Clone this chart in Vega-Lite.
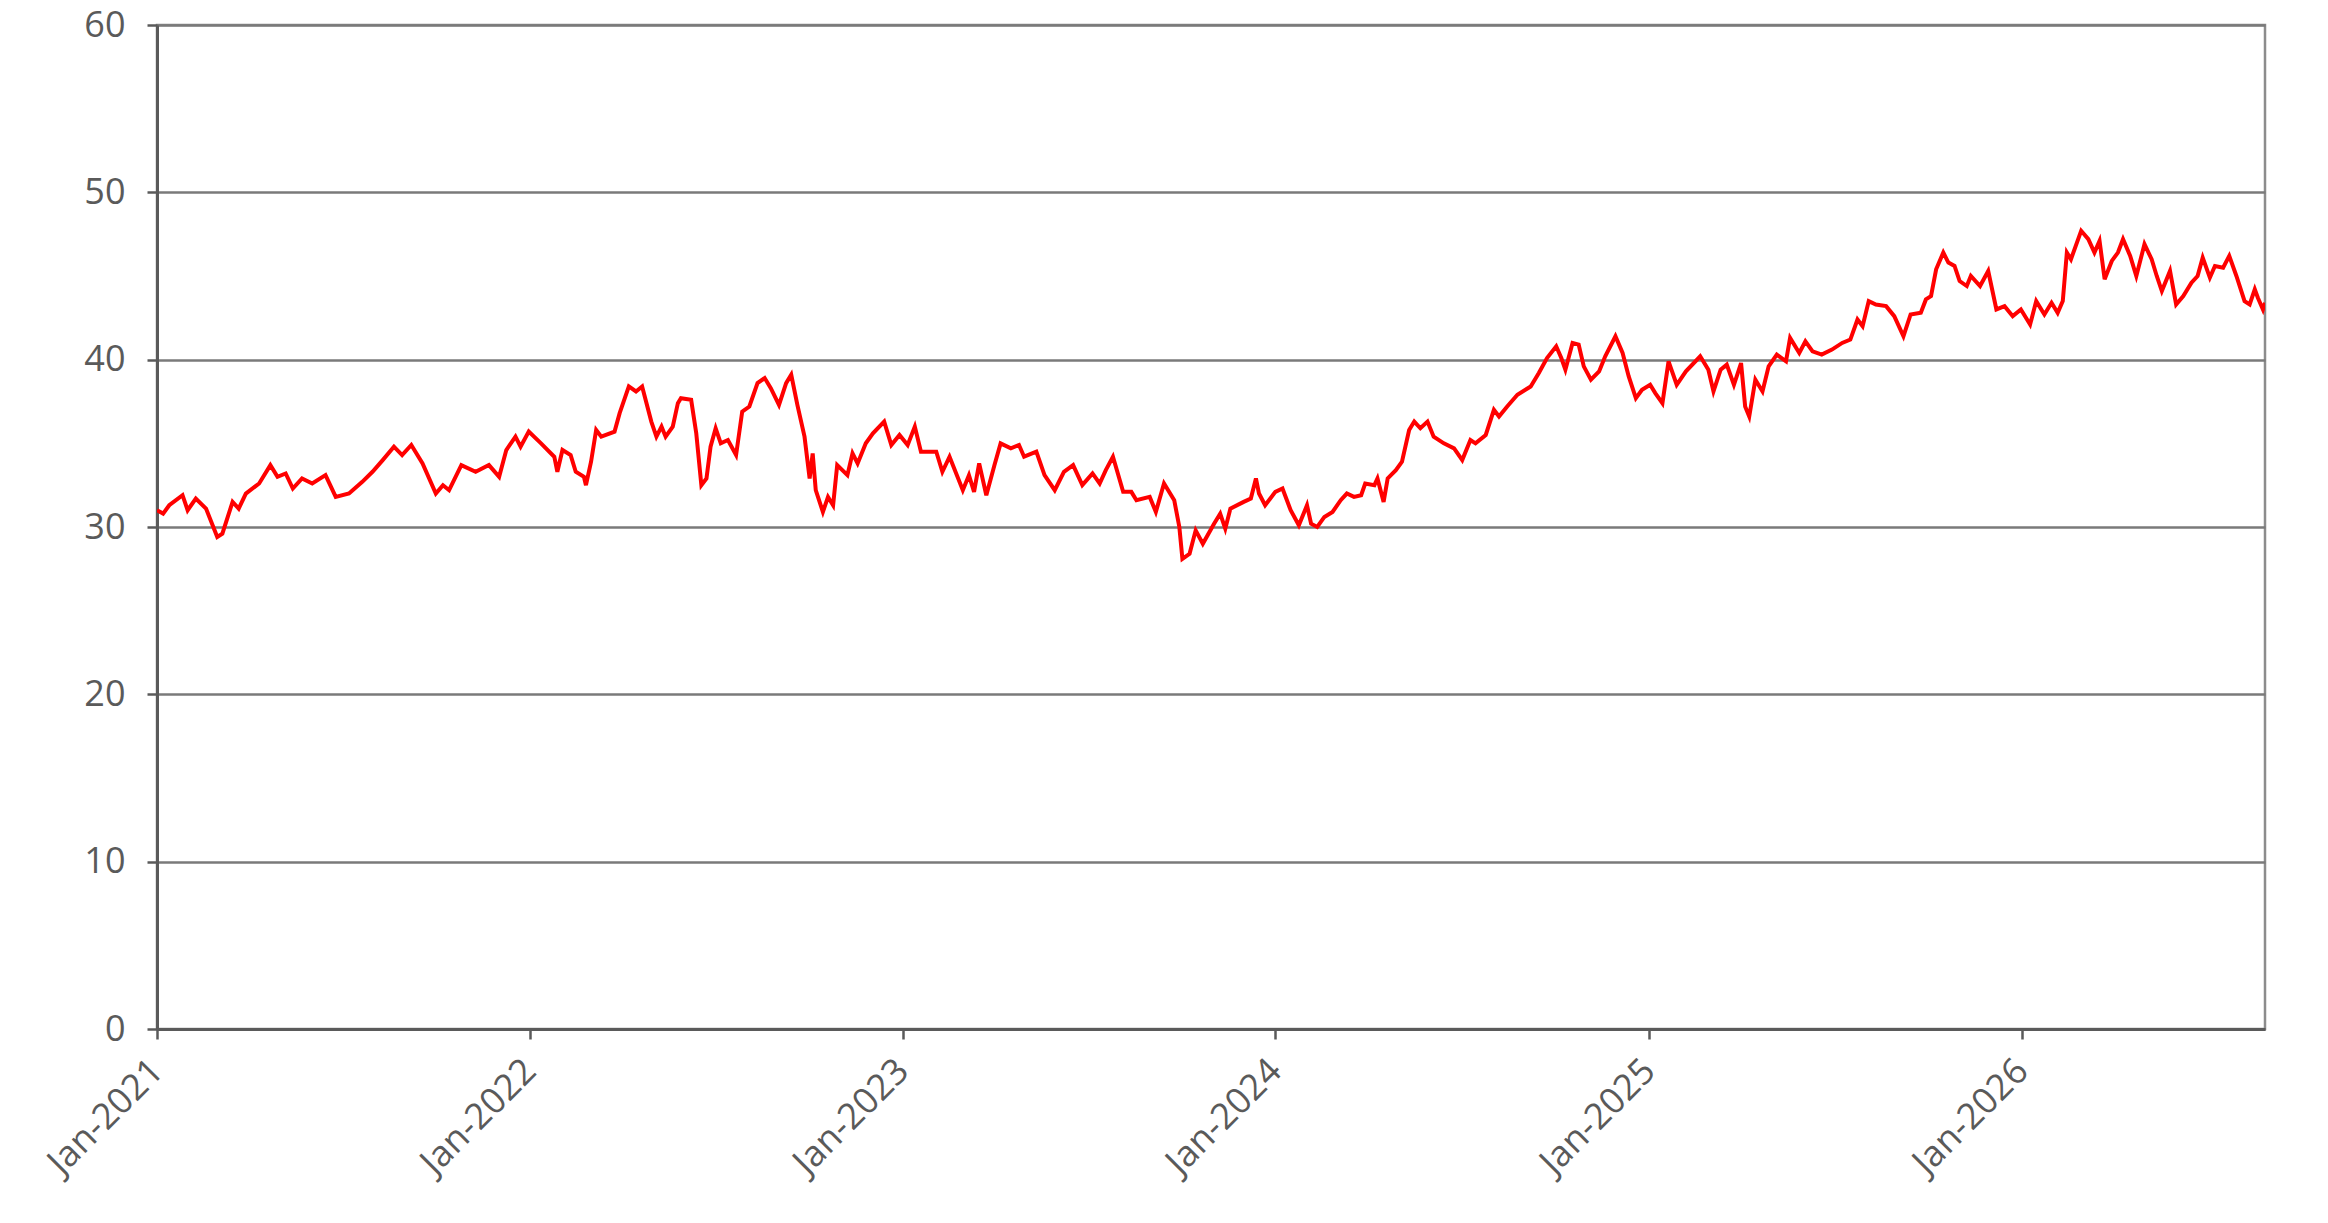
{
  "$schema": "https://vega.github.io/schema/vega-lite/v6.json",
  "width": 2108,
  "height": 1004,
  "autosize": {"type": "none"},
  "padding": {"left": 157, "top": 25, "right": 63, "bottom": 194},
  "background": "white",
  "config": {
    "view": {"stroke": "#8c8c8c", "strokeWidth": 2.5},
    "axis": {
      "labelFont": "Open Sans",
      "labelFontSize": 36,
      "labelColor": "#5a5a5a",
      "domainColor": "#5a5a5a",
      "domainWidth": 3,
      "tickColor": "#5a5a5a",
      "tickWidth": 2.5,
      "tickSize": 10,
      "gridColor": "#7a7a7a",
      "gridWidth": 2.5,
      "gridOpacity": 1,
      "title": null
    }
  },
  "data": {
    "values": [
      {"date": "2021-01-01", "value": 31.0},
      {"date": "2021-01-07", "value": 30.8},
      {"date": "2021-01-13", "value": 31.3},
      {"date": "2021-01-26", "value": 31.9},
      {"date": "2021-01-31", "value": 31.0},
      {"date": "2021-02-08", "value": 31.7},
      {"date": "2021-02-18", "value": 31.1},
      {"date": "2021-03-01", "value": 29.4},
      {"date": "2021-03-06", "value": 29.6},
      {"date": "2021-03-16", "value": 31.5},
      {"date": "2021-03-22", "value": 31.1},
      {"date": "2021-03-29", "value": 32.0},
      {"date": "2021-04-11", "value": 32.6},
      {"date": "2021-04-22", "value": 33.7},
      {"date": "2021-04-29", "value": 33.0},
      {"date": "2021-05-07", "value": 33.2},
      {"date": "2021-05-14", "value": 32.3},
      {"date": "2021-05-23", "value": 32.9},
      {"date": "2021-06-02", "value": 32.6},
      {"date": "2021-06-15", "value": 33.1},
      {"date": "2021-06-25", "value": 31.8},
      {"date": "2021-07-08", "value": 32.0},
      {"date": "2021-07-21", "value": 32.7},
      {"date": "2021-07-31", "value": 33.3},
      {"date": "2021-08-10", "value": 34.0},
      {"date": "2021-08-21", "value": 34.8},
      {"date": "2021-08-29", "value": 34.3},
      {"date": "2021-09-07", "value": 34.9},
      {"date": "2021-09-18", "value": 33.8},
      {"date": "2021-10-01", "value": 32.0},
      {"date": "2021-10-08", "value": 32.5},
      {"date": "2021-10-14", "value": 32.2},
      {"date": "2021-10-26", "value": 33.7},
      {"date": "2021-11-09", "value": 33.3},
      {"date": "2021-11-22", "value": 33.7},
      {"date": "2021-12-02", "value": 33.0},
      {"date": "2021-12-09", "value": 34.6},
      {"date": "2021-12-18", "value": 35.4},
      {"date": "2021-12-23", "value": 34.8},
      {"date": "2021-12-31", "value": 35.7},
      {"date": "2022-01-12", "value": 35.0},
      {"date": "2022-01-25", "value": 34.2},
      {"date": "2022-01-28", "value": 33.3},
      {"date": "2022-02-02", "value": 34.6},
      {"date": "2022-02-10", "value": 34.3},
      {"date": "2022-02-15", "value": 33.3},
      {"date": "2022-02-23", "value": 33.0},
      {"date": "2022-02-25", "value": 32.5},
      {"date": "2022-03-02", "value": 33.9},
      {"date": "2022-03-07", "value": 35.8},
      {"date": "2022-03-12", "value": 35.4},
      {"date": "2022-03-25", "value": 35.7},
      {"date": "2022-03-30", "value": 36.8},
      {"date": "2022-04-08", "value": 38.4},
      {"date": "2022-04-15", "value": 38.1},
      {"date": "2022-04-21", "value": 38.4},
      {"date": "2022-04-30", "value": 36.3},
      {"date": "2022-05-05", "value": 35.4},
      {"date": "2022-05-10", "value": 36.0},
      {"date": "2022-05-14", "value": 35.4},
      {"date": "2022-05-21", "value": 36.0},
      {"date": "2022-05-26", "value": 37.4},
      {"date": "2022-05-29", "value": 37.7},
      {"date": "2022-06-08", "value": 37.6},
      {"date": "2022-06-13", "value": 35.6},
      {"date": "2022-06-18", "value": 32.5},
      {"date": "2022-06-23", "value": 32.9},
      {"date": "2022-06-27", "value": 34.8},
      {"date": "2022-07-02", "value": 35.9},
      {"date": "2022-07-07", "value": 35.0},
      {"date": "2022-07-14", "value": 35.2},
      {"date": "2022-07-22", "value": 34.3},
      {"date": "2022-07-28", "value": 36.9},
      {"date": "2022-08-04", "value": 37.2},
      {"date": "2022-08-12", "value": 38.6},
      {"date": "2022-08-19", "value": 38.9},
      {"date": "2022-08-25", "value": 38.3},
      {"date": "2022-09-02", "value": 37.3},
      {"date": "2022-09-09", "value": 38.6},
      {"date": "2022-09-14", "value": 39.1},
      {"date": "2022-09-20", "value": 37.3},
      {"date": "2022-09-27", "value": 35.4},
      {"date": "2022-10-02", "value": 32.9},
      {"date": "2022-10-05", "value": 34.4},
      {"date": "2022-10-08", "value": 32.2},
      {"date": "2022-10-15", "value": 30.9},
      {"date": "2022-10-20", "value": 31.8},
      {"date": "2022-10-25", "value": 31.3},
      {"date": "2022-10-29", "value": 33.7},
      {"date": "2022-11-08", "value": 33.1},
      {"date": "2022-11-13", "value": 34.4},
      {"date": "2022-11-18", "value": 33.8},
      {"date": "2022-11-26", "value": 35.0},
      {"date": "2022-12-03", "value": 35.6},
      {"date": "2022-12-14", "value": 36.3},
      {"date": "2022-12-21", "value": 34.9},
      {"date": "2022-12-29", "value": 35.5},
      {"date": "2023-01-06", "value": 34.9},
      {"date": "2023-01-13", "value": 36.0},
      {"date": "2023-01-19", "value": 34.5},
      {"date": "2023-02-03", "value": 34.5},
      {"date": "2023-02-09", "value": 33.3},
      {"date": "2023-02-16", "value": 34.2},
      {"date": "2023-03-01", "value": 32.2},
      {"date": "2023-03-07", "value": 33.1},
      {"date": "2023-03-12", "value": 32.1},
      {"date": "2023-03-17", "value": 33.8},
      {"date": "2023-03-24", "value": 31.9},
      {"date": "2023-04-01", "value": 33.7},
      {"date": "2023-04-07", "value": 35.0},
      {"date": "2023-04-17", "value": 34.7},
      {"date": "2023-04-25", "value": 34.9},
      {"date": "2023-04-30", "value": 34.2},
      {"date": "2023-05-12", "value": 34.5},
      {"date": "2023-05-20", "value": 33.1},
      {"date": "2023-05-30", "value": 32.2},
      {"date": "2023-06-08", "value": 33.3},
      {"date": "2023-06-17", "value": 33.7},
      {"date": "2023-06-26", "value": 32.5},
      {"date": "2023-07-06", "value": 33.2},
      {"date": "2023-07-13", "value": 32.6},
      {"date": "2023-07-19", "value": 33.4},
      {"date": "2023-07-26", "value": 34.2},
      {"date": "2023-08-05", "value": 32.1},
      {"date": "2023-08-13", "value": 32.1},
      {"date": "2023-08-18", "value": 31.6},
      {"date": "2023-08-31", "value": 31.8},
      {"date": "2023-09-06", "value": 30.9},
      {"date": "2023-09-14", "value": 32.6},
      {"date": "2023-09-24", "value": 31.6},
      {"date": "2023-09-29", "value": 30.0},
      {"date": "2023-10-02", "value": 28.1},
      {"date": "2023-10-09", "value": 28.4},
      {"date": "2023-10-15", "value": 29.8},
      {"date": "2023-10-22", "value": 29.0},
      {"date": "2023-11-02", "value": 30.2},
      {"date": "2023-11-08", "value": 30.8},
      {"date": "2023-11-13", "value": 29.9},
      {"date": "2023-11-18", "value": 31.1},
      {"date": "2023-12-01", "value": 31.5},
      {"date": "2023-12-08", "value": 31.7},
      {"date": "2023-12-13", "value": 32.9},
      {"date": "2023-12-16", "value": 32.0},
      {"date": "2023-12-22", "value": 31.3},
      {"date": "2024-01-01", "value": 32.1},
      {"date": "2024-01-08", "value": 32.3},
      {"date": "2024-01-16", "value": 31.0},
      {"date": "2024-01-24", "value": 30.1},
      {"date": "2024-02-01", "value": 31.3},
      {"date": "2024-02-05", "value": 30.2},
      {"date": "2024-02-11", "value": 30.0},
      {"date": "2024-02-18", "value": 30.6},
      {"date": "2024-02-26", "value": 30.9},
      {"date": "2024-03-05", "value": 31.6},
      {"date": "2024-03-11", "value": 32.0},
      {"date": "2024-03-18", "value": 31.8},
      {"date": "2024-03-25", "value": 31.9},
      {"date": "2024-03-29", "value": 32.6},
      {"date": "2024-04-07", "value": 32.5},
      {"date": "2024-04-10", "value": 32.9},
      {"date": "2024-04-16", "value": 31.5},
      {"date": "2024-04-20", "value": 32.9},
      {"date": "2024-04-28", "value": 33.4},
      {"date": "2024-05-04", "value": 33.9},
      {"date": "2024-05-11", "value": 35.8},
      {"date": "2024-05-16", "value": 36.3},
      {"date": "2024-05-22", "value": 35.9},
      {"date": "2024-05-29", "value": 36.3},
      {"date": "2024-06-04", "value": 35.4},
      {"date": "2024-06-14", "value": 35.0},
      {"date": "2024-06-24", "value": 34.7},
      {"date": "2024-07-02", "value": 34.0},
      {"date": "2024-07-10", "value": 35.2},
      {"date": "2024-07-15", "value": 35.0},
      {"date": "2024-07-25", "value": 35.5},
      {"date": "2024-08-02", "value": 37.0},
      {"date": "2024-08-07", "value": 36.6},
      {"date": "2024-08-15", "value": 37.2},
      {"date": "2024-08-25", "value": 37.9},
      {"date": "2024-09-07", "value": 38.4},
      {"date": "2024-09-15", "value": 39.2},
      {"date": "2024-09-23", "value": 40.1},
      {"date": "2024-10-02", "value": 40.8},
      {"date": "2024-10-07", "value": 40.1},
      {"date": "2024-10-11", "value": 39.4},
      {"date": "2024-10-18", "value": 41.0},
      {"date": "2024-10-24", "value": 40.9},
      {"date": "2024-10-29", "value": 39.6},
      {"date": "2024-11-05", "value": 38.8},
      {"date": "2024-11-13", "value": 39.3},
      {"date": "2024-11-19", "value": 40.2},
      {"date": "2024-11-29", "value": 41.4},
      {"date": "2024-12-06", "value": 40.4},
      {"date": "2024-12-12", "value": 39.0},
      {"date": "2024-12-19", "value": 37.7},
      {"date": "2024-12-25", "value": 38.2},
      {"date": "2025-01-02", "value": 38.5},
      {"date": "2025-01-07", "value": 38.0},
      {"date": "2025-01-14", "value": 37.4},
      {"date": "2025-01-20", "value": 39.9},
      {"date": "2025-01-28", "value": 38.5},
      {"date": "2025-02-06", "value": 39.3},
      {"date": "2025-02-20", "value": 40.2},
      {"date": "2025-02-28", "value": 39.4},
      {"date": "2025-03-05", "value": 38.1},
      {"date": "2025-03-12", "value": 39.4},
      {"date": "2025-03-18", "value": 39.7},
      {"date": "2025-03-25", "value": 38.5},
      {"date": "2025-04-01", "value": 39.8},
      {"date": "2025-04-05", "value": 37.2},
      {"date": "2025-04-09", "value": 36.6},
      {"date": "2025-04-15", "value": 38.8},
      {"date": "2025-04-22", "value": 38.1},
      {"date": "2025-04-28", "value": 39.6},
      {"date": "2025-05-06", "value": 40.3},
      {"date": "2025-05-15", "value": 39.9},
      {"date": "2025-05-19", "value": 41.3},
      {"date": "2025-05-28", "value": 40.4},
      {"date": "2025-06-03", "value": 41.1},
      {"date": "2025-06-10", "value": 40.5},
      {"date": "2025-06-19", "value": 40.3},
      {"date": "2025-06-29", "value": 40.6},
      {"date": "2025-07-09", "value": 41.0},
      {"date": "2025-07-17", "value": 41.2},
      {"date": "2025-07-24", "value": 42.4},
      {"date": "2025-07-29", "value": 42.0},
      {"date": "2025-08-04", "value": 43.5},
      {"date": "2025-08-11", "value": 43.3},
      {"date": "2025-08-21", "value": 43.2},
      {"date": "2025-08-29", "value": 42.6},
      {"date": "2025-09-07", "value": 41.4},
      {"date": "2025-09-14", "value": 42.7},
      {"date": "2025-09-24", "value": 42.8},
      {"date": "2025-09-29", "value": 43.6},
      {"date": "2025-10-04", "value": 43.8},
      {"date": "2025-10-09", "value": 45.4},
      {"date": "2025-10-16", "value": 46.4},
      {"date": "2025-10-21", "value": 45.8},
      {"date": "2025-10-27", "value": 45.6},
      {"date": "2025-11-01", "value": 44.7},
      {"date": "2025-11-08", "value": 44.4},
      {"date": "2025-11-12", "value": 45.0},
      {"date": "2025-11-21", "value": 44.4},
      {"date": "2025-11-29", "value": 45.3},
      {"date": "2025-12-07", "value": 43.0},
      {"date": "2025-12-15", "value": 43.2},
      {"date": "2025-12-23", "value": 42.6},
      {"date": "2025-12-31", "value": 43.0},
      {"date": "2026-01-09", "value": 42.1},
      {"date": "2026-01-15", "value": 43.5},
      {"date": "2026-01-23", "value": 42.7},
      {"date": "2026-01-30", "value": 43.4},
      {"date": "2026-02-05", "value": 42.8},
      {"date": "2026-02-10", "value": 43.5},
      {"date": "2026-02-14", "value": 46.4},
      {"date": "2026-02-18", "value": 46.0},
      {"date": "2026-02-28", "value": 47.7},
      {"date": "2026-03-07", "value": 47.2},
      {"date": "2026-03-13", "value": 46.4},
      {"date": "2026-03-18", "value": 47.1},
      {"date": "2026-03-23", "value": 44.8},
      {"date": "2026-03-30", "value": 45.9},
      {"date": "2026-04-05", "value": 46.4},
      {"date": "2026-04-10", "value": 47.2},
      {"date": "2026-04-17", "value": 46.2},
      {"date": "2026-04-23", "value": 45.0},
      {"date": "2026-05-01", "value": 46.9},
      {"date": "2026-05-08", "value": 46.0},
      {"date": "2026-05-13", "value": 45.0},
      {"date": "2026-05-18", "value": 44.1},
      {"date": "2026-05-26", "value": 45.3},
      {"date": "2026-06-01", "value": 43.3},
      {"date": "2026-06-08", "value": 43.8},
      {"date": "2026-06-16", "value": 44.6},
      {"date": "2026-06-22", "value": 45.0},
      {"date": "2026-06-27", "value": 46.1},
      {"date": "2026-07-04", "value": 44.9},
      {"date": "2026-07-09", "value": 45.6},
      {"date": "2026-07-17", "value": 45.5},
      {"date": "2026-07-23", "value": 46.2},
      {"date": "2026-07-30", "value": 45.0},
      {"date": "2026-08-07", "value": 43.5},
      {"date": "2026-08-12", "value": 43.3},
      {"date": "2026-08-17", "value": 44.2},
      {"date": "2026-08-20", "value": 43.7},
      {"date": "2026-08-25", "value": 43.0},
      {"date": "2026-08-27", "value": 43.4}
    ]
  },
  "mark": {"type": "line", "color": "#ff0000", "strokeWidth": 4, "clip": true},
  "encoding": {
    "x": {
      "field": "date",
      "type": "temporal",
      "scale": {
        "type": "utc",
        "domain": [
          {"year": 2021, "month": 1, "date": 1, "utc": true},
          {"year": 2026, "month": 8, "date": 27, "utc": true}
        ],
        "nice": false
      },
      "axis": {
        "values": [
          {"year": 2021, "month": 1, "date": 1, "utc": true},
          {"year": 2022, "month": 1, "date": 1, "utc": true},
          {"year": 2023, "month": 1, "date": 1, "utc": true},
          {"year": 2024, "month": 1, "date": 1, "utc": true},
          {"year": 2025, "month": 1, "date": 1, "utc": true},
          {"year": 2026, "month": 1, "date": 1, "utc": true}
        ],
        "labelExpr": "utcFormat(datum.value, '%b-%Y')",
        "grid": false,
        "labelAngle": -45,
        "labelAlign": "right",
        "labelBaseline": "middle",
        "labelPadding": 26,
        "labelOverlap": false,
        "labelFlush": false
      }
    },
    "y": {
      "field": "value",
      "type": "quantitative",
      "scale": {"domain": [0, 60], "nice": false, "zero": true},
      "axis": {
        "values": [0, 10, 20, 30, 40, 50, 60],
        "grid": true,
        "labelPadding": 22,
        "labelBaseline": "middle"
      }
    }
  }
}
